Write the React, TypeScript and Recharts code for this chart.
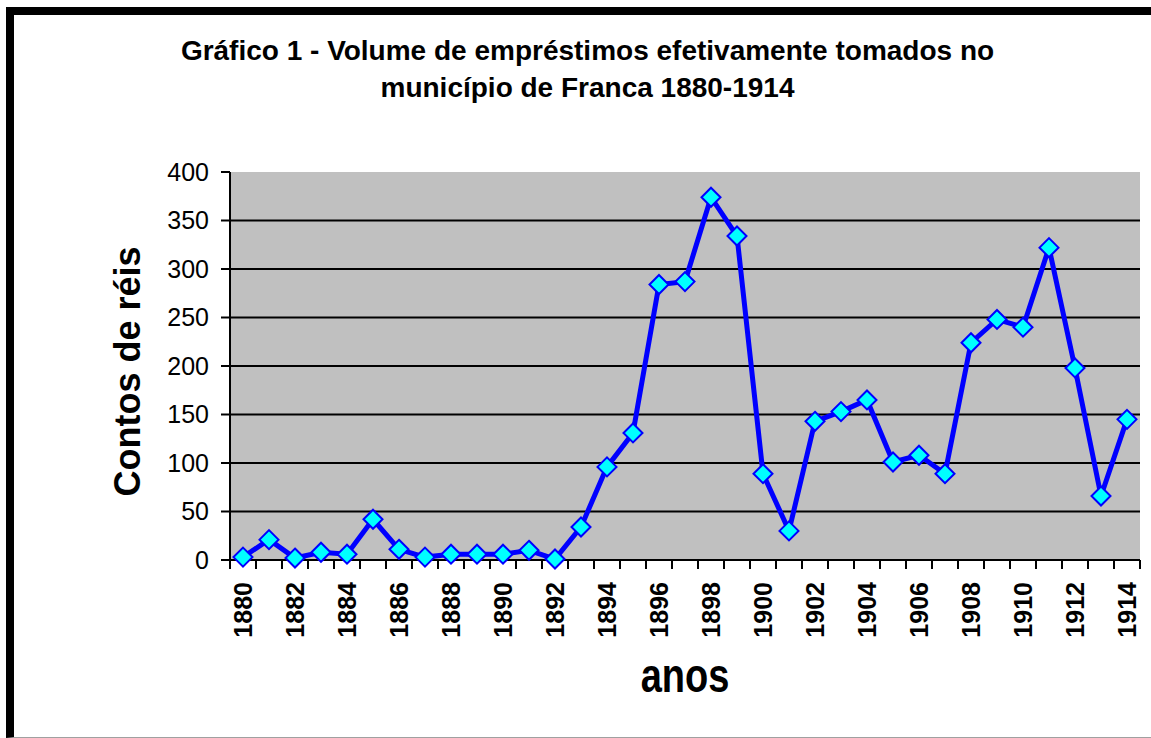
import React from 'react';
import { LineChart, Line, XAxis, YAxis, CartesianGrid } from 'recharts';

const years = [
  1880, 1881, 1882, 1883, 1884, 1885, 1886, 1887, 1888, 1889,
  1890, 1891, 1892, 1893, 1894, 1895, 1896, 1897, 1898, 1899,
  1900, 1901, 1902, 1903, 1904, 1905, 1906, 1907, 1908, 1909,
  1910, 1911, 1912, 1913, 1914,
];
const volumes = [
  3, 21, 2, 8, 6, 42, 11, 3, 6, 6,
  6, 10, 1, 34, 96, 131, 284, 287, 374, 334,
  89, 30, 143, 153, 165, 101, 108, 89, 224, 248,
  240, 322, 198, 66, 145,
];
const labelYears = [1880, 1882, 1884, 1886, 1888, 1890, 1892, 1894, 1896, 1898, 1900, 1902, 1904, 1906, 1908, 1910, 1912, 1914];
const yTicks = [0, 50, 100, 150, 200, 250, 300, 350, 400];
const gridValues = [50, 100, 150, 200, 250, 300, 350];

const titleLines = ['Gráfico 1 - Volume de empréstimos efetivamente tomados no', 'município de Franca 1880-1914'];
const yTitle = 'Contos de réis';
const xTitle = 'anos';

const data = years.map((year, i) => ({ year, value: volumes[i] }));
// tick marks sit between the years (Excel style), labels on even years
const boundaries = [...years.map((y) => y - 0.5), years[years.length - 1] + 0.5];
const xTicks = [...boundaries, ...labelYears].sort((a, b) => a - b);

const FONT = 'Arial, "Liberation Sans", sans-serif';

const XTick = ({ x, y, payload }: any) => {
  const v = payload.value;
  if (v % 1 !== 0) {
    return <line x1={x} y1={y} x2={x} y2={y + 9} stroke="#000" strokeWidth={2} />;
  }
  const bx = x + 9;
  const by = y + 22;
  return (
    <text x={bx} y={by} transform={`rotate(-90, ${bx}, ${by})`} textAnchor="end"
      fontFamily={FONT} fontSize={25} fontWeight={700} fill="#000">
      {v}
    </text>
  );
};

const Diamond = ({ cx, cy }: any) => {
  if (cx == null || cy == null) return null;
  const r = 9.5;
  return (
    <polygon points={`${cx},${cy - r} ${cx + r},${cy} ${cx},${cy + r} ${cx - r},${cy}`}
      fill="#00FFFF" stroke="#0000FF" strokeWidth={2} />
  );
};

export default function App() {
  return (
    <div style={{ position: 'absolute', left: 0, top: 0, width: 1151, height: 738, background: '#fff', overflow: 'hidden' }}>
      <div style={{
        position: 'absolute', left: 6, top: 7, width: 1160, height: 722,
        borderTop: '8px solid #000', borderLeft: '8px solid #000', borderBottom: '1px solid #a0a0a0',
      }} />
      <div style={{ position: 'absolute', left: 0, top: 0 }}>
        <LineChart width={1151} height={738} data={data} margin={{ top: 172, right: 11, bottom: 0, left: 0 }}>
          <CartesianGrid vertical={false} horizontalValues={gridValues} stroke="#000" strokeWidth={2}
            fill="#C0C0C0" fillOpacity={1} />
          <XAxis dataKey="year" type="number" domain={[1879.5, 1914.5]} ticks={xTicks} interval={0}
            height={178} tickLine={false} tickSize={0} tickMargin={0}
            axisLine={{ stroke: '#000', strokeWidth: 2 }} tick={<XTick />} />
          <YAxis type="number" domain={[0, 400]} ticks={yTicks} interval={0} width={230}
            tickSize={9} tickMargin={12} tickLine={{ stroke: '#000', strokeWidth: 2 }}
            axisLine={{ stroke: '#000', strokeWidth: 2 }}
            tick={{ fill: '#000', fontSize: 25, fontFamily: FONT }} />
          <Line type="linear" dataKey="value" stroke="#0000FF" strokeWidth={5}
            dot={(p: any) => <Diamond key={p.index} {...p} />} activeDot={false} isAnimationActive={false} />
        </LineChart>
      </div>
      <svg width={1151} height={738} style={{ position: 'absolute', left: 0, top: 0, pointerEvents: 'none' }}
        fontFamily={FONT} fontWeight={700} fill="#000">
        <text x={587.5} y={60} textAnchor="middle" fontSize={28}>{titleLines[0]}</text>
        <text x={587.5} y={97} textAnchor="middle" fontSize={28}>{titleLines[1]}</text>
        <text x={140} y={371.5} transform="rotate(-90, 140, 371.5)" textAnchor="middle" fontSize={36}>{yTitle}</text>
        <text x={685} y={692} textAnchor="middle" fontSize={38} transform="translate(0, -173) scale(1, 1.25)">{xTitle}</text>
      </svg>
    </div>
  );
}
